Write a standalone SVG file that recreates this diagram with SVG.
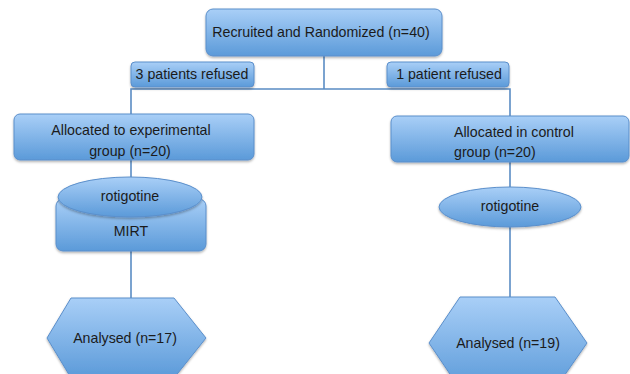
<svg xmlns="http://www.w3.org/2000/svg" width="630" height="374" viewBox="0 0 630 374">
<defs>
<linearGradient id="g" x1="0" y1="0" x2="0" y2="1">
<stop offset="0" stop-color="#a9cff7"/>
<stop offset="1" stop-color="#5b9ad9"/>
</linearGradient>
<filter id="sh" x="-10%" y="-10%" width="120%" height="130%">
<feDropShadow dx="0" dy="1.5" stdDeviation="1.2" flood-color="#000" flood-opacity="0.3"/>
</filter>
<style>
.n{fill:url(#g);stroke:#5b8fcb;stroke-width:1;filter:url(#sh)}
.t{font-family:"Liberation Sans",Arial,sans-serif;font-size:14.2px;fill:#1b1b1b;dominant-baseline:middle}
.c{text-anchor:middle}
.l{stroke:#5a8cc4;stroke-width:1.6;fill:none}
</style>
</defs>
<rect width="630" height="374" fill="#fff"/>
<g id="connectors">
<line class="l" x1="324" y1="56" x2="324" y2="89"/>
<polyline class="l" points="131,116 131,89 510,89 510,116"/>
<line class="l" x1="131" y1="160" x2="131" y2="180"/>
<line class="l" x1="131" y1="251" x2="131" y2="298"/>
<line class="l" x1="510" y1="162" x2="510" y2="188"/>
<line class="l" x1="510" y1="227" x2="510" y2="297"/>
</g>
<g id="recruited">
<rect class="n" x="206" y="9" width="236" height="47" rx="7"/>
<text class="t c" x="321" y="33">Recruited and Randomized (n=40)</text>
</g>
<g id="refused3">
<rect class="n" x="131" y="62" width="123" height="25" rx="4"/>
<text class="t c" x="192" y="75">3 patients refused</text>
</g>
<g id="refused1">
<rect class="n" x="387" y="62" width="122" height="25" rx="4"/>
<text class="t c" x="449" y="75">1 patient refused</text>
</g>
<g id="experimental">
<rect class="n" x="14" y="114" width="240" height="46" rx="6"/>
<text class="t c" x="131" y="131">Allocated to experimental</text>
<text class="t c" x="130" y="152">group (n=20)</text>
</g>
<g id="control">
<rect class="n" x="391" y="116" width="238" height="46" rx="6"/>
<text class="t" x="454" y="133">Allocated in control</text>
<text class="t" x="454" y="153">group (n=20)</text>
</g>
<g id="mirt">
<rect class="n" x="56" y="199" width="150" height="52" rx="7"/>
<text class="t c" x="131" y="232">MIRT</text>
</g>
<g id="rotigotine-exp">
<ellipse class="n" cx="130" cy="197" rx="72" ry="20"/>
<text class="t c" x="130" y="197">rotigotine</text>
</g>
<g id="rotigotine-ctrl">
<ellipse class="n" cx="510" cy="207" rx="71" ry="20"/>
<text class="t c" x="510" y="207">rotigotine</text>
</g>
<g id="analysed17">
<polygon class="n" points="71,298 174,298 206,338 174,378 71,378 47,338"/>
<text class="t c" x="125" y="339">Analysed (n=17)</text>
</g>
<g id="analysed19">
<polygon class="n" points="460,297 555,297 587,343 555,389 460,389 429,343"/>
<text class="t c" x="508" y="344">Analysed (n=19)</text>
</g>
</svg>
